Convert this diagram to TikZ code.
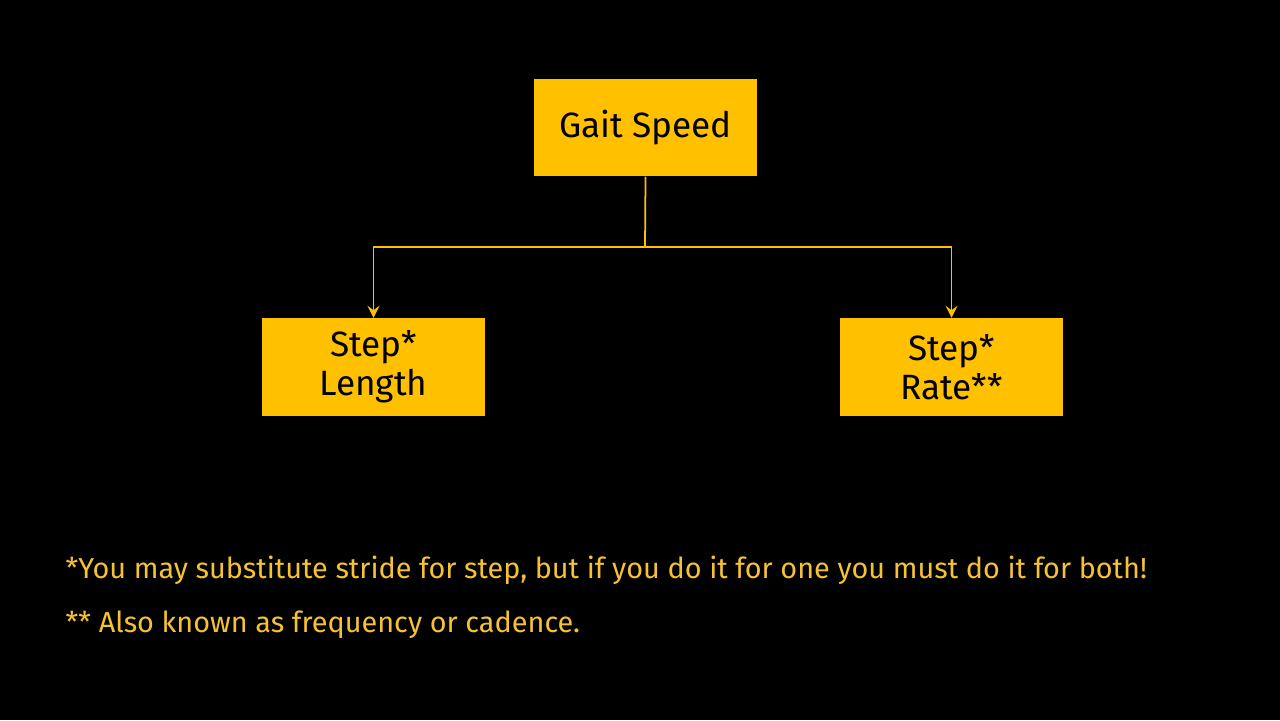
\documentclass[tikz,border=0pt]{standalone}
\usepackage{fontspec}
\setmainfont{Fira Sans}
\definecolor{gold}{HTML}{FFC000}
\definecolor{note}{HTML}{F5C232}
\begin{document}
\begin{tikzpicture}[x=0.01cm,y=-0.01cm,
  box/.style={fill=gold,draw=none,minimum width=2.23cm,minimum height=0.97cm,align=center,font=\fontsize{10}{11}\selectfont,text=black,inner sep=0pt},
  conn/.style={draw=gold,line width=0.5pt},
  note/.style={anchor=west,text=note,font=\fontsize{8.2}{9}\selectfont,inner sep=0pt}]
\fill[black] (0,0) rectangle (1280,720);
\node[box] (g) at (645.5,127.5) {Gait Speed};
\node[box] (l) at (373.5,367) {Step*\\Length};
\node[box] (r) at (951.5,367) {Step*\\Rate**};
\coordinate (j) at (645,247);
\draw[conn] (g.south) -- (j);
\draw[conn,->,>=stealth] (j) -| (l.north);
\draw[conn,->,>=stealth] (j) -| (r.north);
\node[note] (n1) at (65,570) {*You may substitute stride for step, but if you do it for one you must do it for both!};
\node[note] (n2) at (65,625) {** Also known as frequency or cadence.};
\end{tikzpicture}
\end{document}
